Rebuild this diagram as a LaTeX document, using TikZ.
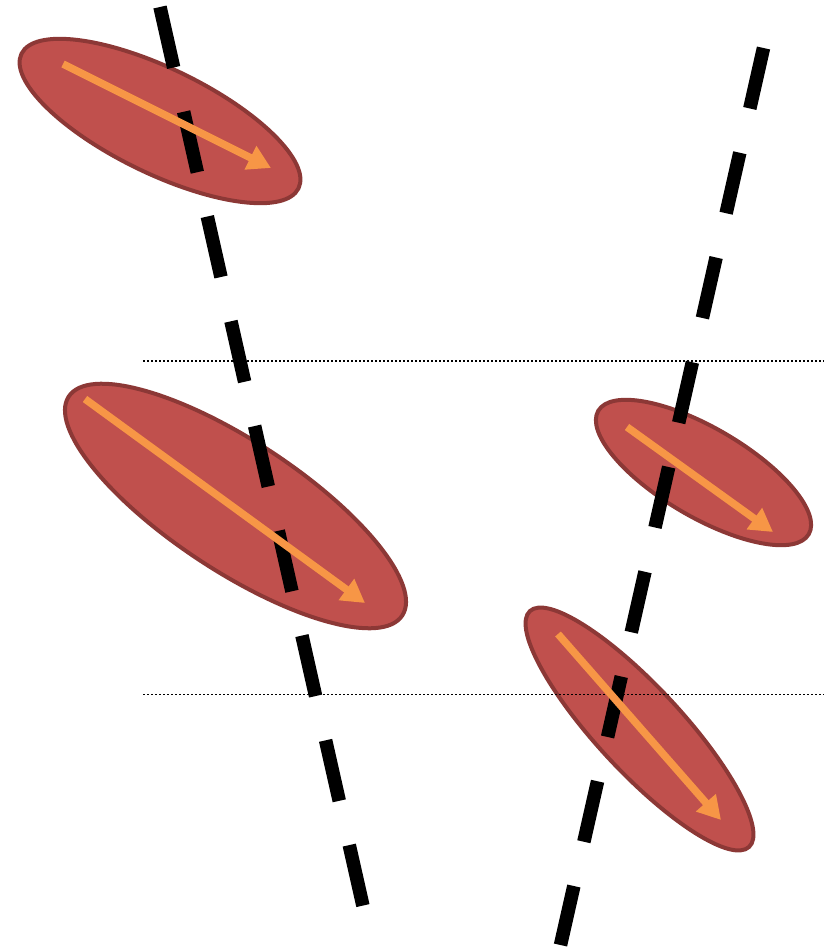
\documentclass[tikz,border=0pt]{standalone}
\usetikzlibrary{shapes.geometric,arrows.meta}
\definecolor{cellfill}{HTML}{C0504D}
\definecolor{celledge}{HTML}{8C3836}
\definecolor{dirarrow}{HTML}{F79646}
\tikzset{
  cell/.style={ellipse, draw=celledge, fill=cellfill, line width=4pt, inner sep=0pt, outer sep=0pt},
  axisline/.style={black, line width=13.5pt, line cap=butt, dash pattern=on 62pt off 45.4pt},
  levelline/.style={black, line width=1.6pt, dash pattern=on 2pt off 2pt},
  dirvec/.style={dirarrow, line width=7.5pt, -{Triangle[length=23pt,width=25pt]}}
}
\begin{document}
\begin{tikzpicture}[x=1pt,y=-1pt]
\useasboundingbox (0,0) rectangle (824,947);
% ellipses
\node[cell, minimum width=308pt, minimum height=105pt, rotate=-25.9] (e1) at (160,121) {};
\node[cell, minimum width=399pt, minimum height=130pt, rotate=-33.3] (e2) at (235.5,506) {};
\node[cell, minimum width=244pt, minimum height=89pt, rotate=-30.4] (e3) at (703.5,472.5) {};
\node[cell, minimum width=322pt, minimum height=85pt, rotate=-47.1] (e4) at (639.5,729) {};
% level lines
\coordinate (l1a) at (143,361);
\coordinate (l1b) at (824,361);
\coordinate (l2a) at (143,694.3);
\coordinate (l2b) at (824,694.3);
\draw[levelline] (l1a) -- (l1b);
\draw[levelline] (l2a) -- (l2b);
% dashed axes
\coordinate (la) at (160,7);
\coordinate (lb) at (363,906);
\coordinate (ra) at (763.5,48);
\coordinate (rb) at (560.5,945);
\draw[axisline] (la) -- (lb);
\draw[axisline] (ra) -- (rb);
% arrows
\coordinate (a1s) at (63,64);
\coordinate (a1e) at (271,168);
\coordinate (a2s) at (85,399);
\coordinate (a2e) at (365,603);
\coordinate (a3s) at (627,427);
\coordinate (a3e) at (773,532);
\coordinate (a4s) at (558,634);
\coordinate (a4e) at (721,820);
\draw[dirvec] (a1s) -- (a1e);
\draw[dirvec] (a2s) -- (a2e);
\draw[dirvec] (a3s) -- (a3e);
\draw[dirvec] (a4s) -- (a4e);
\end{tikzpicture}
\end{document}
